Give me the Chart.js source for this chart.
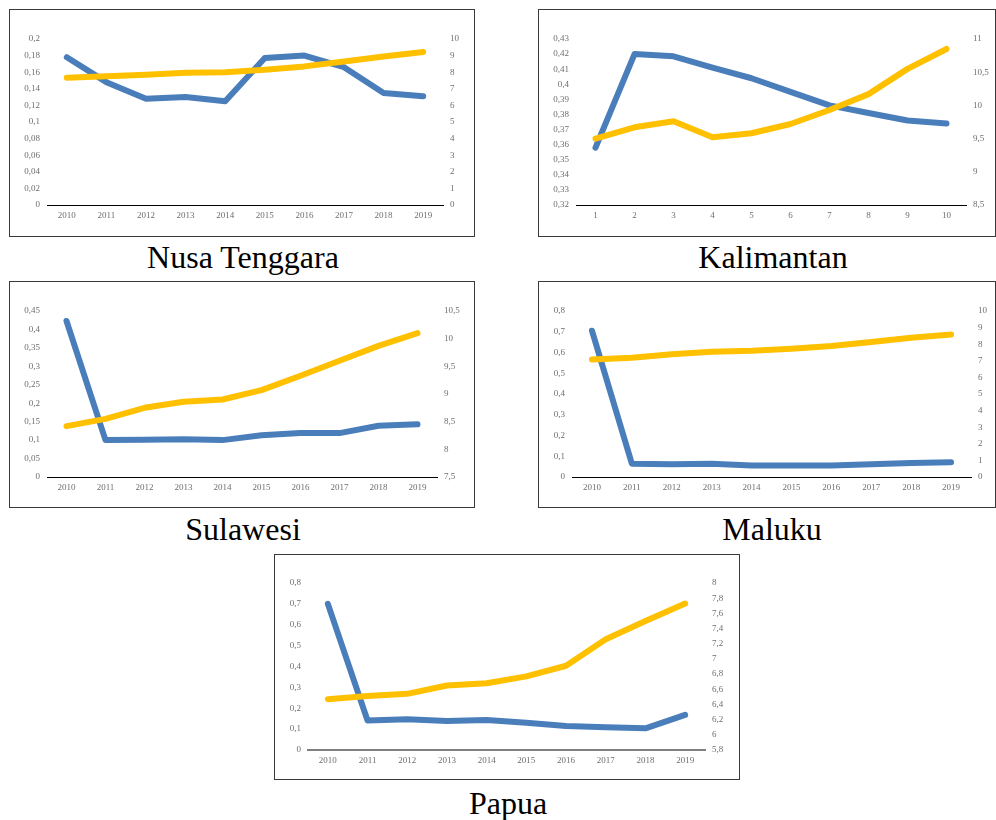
<!DOCTYPE html>
<html>
<head>
<meta charset="utf-8">
<script src="https://cdn.jsdelivr.net/npm/chart.js@4/dist/chart.umd.min.js"></script>
<style>
  html, body { margin: 0; padding: 0; background: #fff; }
  body { width: 996px; height: 820px; position: relative; overflow: hidden; }
  .box { position: absolute; box-sizing: border-box; border: 1px solid #3a3a3a; background: #fff; }
  .box canvas { display: block; }
  .title { position: absolute; width: 400px; margin-left: -200px; text-align: center;
           font-family: "Liberation Serif", "Times New Roman", serif; font-size: 32px; color: #000; line-height: 1; }
</style>
</head>
<body>
<div class="box" style="left:9px;top:9px;width:466px;height:228px"><canvas id="c1" width="464" height="226"></canvas></div>
<div class="box" style="left:538px;top:9px;width:458px;height:228px"><canvas id="c2" width="456" height="226"></canvas></div>
<div class="box" style="left:9px;top:281px;width:466px;height:227px"><canvas id="c3" width="464" height="225"></canvas></div>
<div class="box" style="left:538px;top:281px;width:458px;height:227px"><canvas id="c4" width="456" height="225"></canvas></div>
<div class="box" style="left:274px;top:554px;width:466px;height:226px"><canvas id="c5" width="464" height="224"></canvas></div>

<div class="title" style="left:243px;top:241px">Nusa Tenggara</div>
<div class="title" style="left:773px;top:241px">Kalimantan</div>
<div class="title" style="left:243px;top:513px">Sulawesi</div>
<div class="title" style="left:772px;top:513px">Maluku</div>
<div class="title" style="left:508px;top:787px">Papua</div>

<script>
// Years shown on the category axis
const years = ['2010', '2011', '2012', '2013', '2014', '2015', '2016', '2017', '2018', '2019'];
const periods = ['1', '2', '3', '4', '5', '6', '7', '8', '9', '10'];

// Nusa Tenggara
const nusaBlue   = [0.178, 0.148, 0.128, 0.130, 0.125, 0.177, 0.180, 0.166, 0.135, 0.131];
const nusaYellow = [7.67, 7.75, 7.85, 7.97, 7.99, 8.15, 8.35, 8.65, 8.95, 9.22];
const nusaLeftTicks  = [0, 0.02, 0.04, 0.06, 0.08, 0.1, 0.12, 0.14, 0.16, 0.18, 0.2];
const nusaRightTicks = [0, 1, 2, 3, 4, 5, 6, 7, 8, 9, 10];

// Kalimantan
const kalBlue   = [0.358, 0.420, 0.4185, 0.411, 0.404, 0.395, 0.386, 0.381, 0.376, 0.374];
const kalYellow = [9.50, 9.67, 9.76, 9.52, 9.58, 9.72, 9.93, 10.17, 10.55, 10.85];
const kalLeftTicks  = [0.32, 0.33, 0.34, 0.35, 0.36, 0.37, 0.38, 0.39, 0.4, 0.41, 0.42, 0.43];
const kalRightTicks = [8.5, 9, 9.5, 10, 10.5, 11];

// Sulawesi
const sulBlue   = [0.423, 0.100, 0.101, 0.102, 0.100, 0.113, 0.119, 0.119, 0.139, 0.143];
const sulYellow = [8.42, 8.55, 8.75, 8.86, 8.90, 9.07, 9.33, 9.60, 9.87, 10.10];
const sulLeftTicks  = [0, 0.05, 0.1, 0.15, 0.2, 0.25, 0.3, 0.35, 0.4, 0.45];
const sulRightTicks = [7.5, 8, 8.5, 9, 9.5, 10, 10.5];

// Maluku
const malBlue   = [0.705, 0.064, 0.061, 0.064, 0.056, 0.056, 0.056, 0.061, 0.068, 0.071];
const malYellow = [7.08, 7.18, 7.40, 7.55, 7.61, 7.73, 7.89, 8.13, 8.39, 8.59];
const malLeftTicks  = [0, 0.1, 0.2, 0.3, 0.4, 0.5, 0.6, 0.7, 0.8];
const malRightTicks = [0, 1, 2, 3, 4, 5, 6, 7, 8, 9, 10];

// Papua
const papBlue   = [0.700, 0.141, 0.147, 0.139, 0.144, 0.131, 0.115, 0.109, 0.104, 0.168];
const papYellow = [6.47, 6.51, 6.54, 6.65, 6.68, 6.77, 6.91, 7.26, 7.50, 7.73];
const papLeftTicks  = [0, 0.1, 0.2, 0.3, 0.4, 0.5, 0.6, 0.7, 0.8];
const papRightTicks = [5.8, 6, 6.2, 6.4, 6.6, 6.8, 7, 7.2, 7.4, 7.6, 7.8, 8];

const BLUE = '#4a7ebb';
const GOLD = '#ffc000';
const TICK_FONT = { family: '"Liberation Serif", "Times New Roman", serif', size: 9 };
const TICK_COLOR = '#6e6e6e';

const fmt = v => String(Number(v.toFixed(4))).replace('.', ',');

// area = [left, top, right, bottom] of the plot inside the canvas
function drawPanel(id, labels, blue, gold, leftTicks, rightTicks, area, axisStyle) {
  const canvas = document.getElementById(id);
  const W = canvas.width, H = canvas.height;
  const [pl, pt, pr, pb] = area;
  const fixTicks = arr => scale => { scale.ticks = arr.map(v => ({ value: v })); };
  new Chart(canvas, {
    type: 'line',
    data: {
      labels: labels,
      datasets: [
        { data: gold, yAxisID: 'y1', borderColor: GOLD, borderWidth: 6, order: 0,
          pointRadius: 0, borderCapStyle: 'round', borderJoinStyle: 'round', tension: 0, fill: false },
        { data: blue, yAxisID: 'y', borderColor: BLUE, borderWidth: 6, order: 1,
          pointRadius: 0, borderCapStyle: 'round', borderJoinStyle: 'round', tension: 0, fill: false }
      ]
    },
    options: {
      responsive: false,
      animation: false,
      devicePixelRatio: 1,
      layout: { padding: { top: pt, left: 0, right: 0, bottom: 0 } },
      plugins: { legend: { display: false }, tooltip: { enabled: false } },
      scales: {
        x: {
          offset: true,
          grid: { display: false, drawTicks: false },
          border: { display: true, color: axisStyle.color, width: axisStyle.width },
          ticks: { font: TICK_FONT, color: TICK_COLOR, padding: 5, maxRotation: 0, autoSkip: false },
          afterFit: s => { s.height = H - pb; }
        },
        y: {
          position: 'left',
          min: leftTicks[0], max: leftTicks[leftTicks.length - 1],
          grid: { display: false, drawTicks: false },
          border: { display: false },
          ticks: { font: TICK_FONT, color: TICK_COLOR, padding: 7, callback: v => fmt(v) },
          afterBuildTicks: fixTicks(leftTicks),
          afterFit: s => { s.width = pl; }
        },
        y1: {
          position: 'right',
          min: rightTicks[0], max: rightTicks[rightTicks.length - 1],
          grid: { display: false, drawTicks: false },
          border: { display: false },
          ticks: { font: TICK_FONT, color: TICK_COLOR, padding: 7, callback: v => fmt(v) },
          afterBuildTicks: fixTicks(rightTicks),
          afterFit: s => { s.width = W - pr; }
        }
      }
    }
  });
}

const blackAxis = { color: '#000000', width: 1 };
const greyAxis  = { color: '#808080', width: 2 };

drawPanel('c1', years,   nusaBlue, nusaYellow, nusaLeftTicks, nusaRightTicks, [37, 29, 433, 195], blackAxis);
drawPanel('c2', periods, kalBlue,  kalYellow,  kalLeftTicks,  kalRightTicks,  [37, 29, 427, 195], blackAxis);
drawPanel('c3', years,   sulBlue,  sulYellow,  sulLeftTicks,  sulRightTicks,  [37, 29, 427, 195], blackAxis);
drawPanel('c4', years,   malBlue,  malYellow,  malLeftTicks,  malRightTicks,  [33, 29, 432, 195], blackAxis);
drawPanel('c5', years,   papBlue,  papYellow,  papLeftTicks,  papRightTicks,  [33, 28, 430, 195], greyAxis);
</script>
</body>
</html>
